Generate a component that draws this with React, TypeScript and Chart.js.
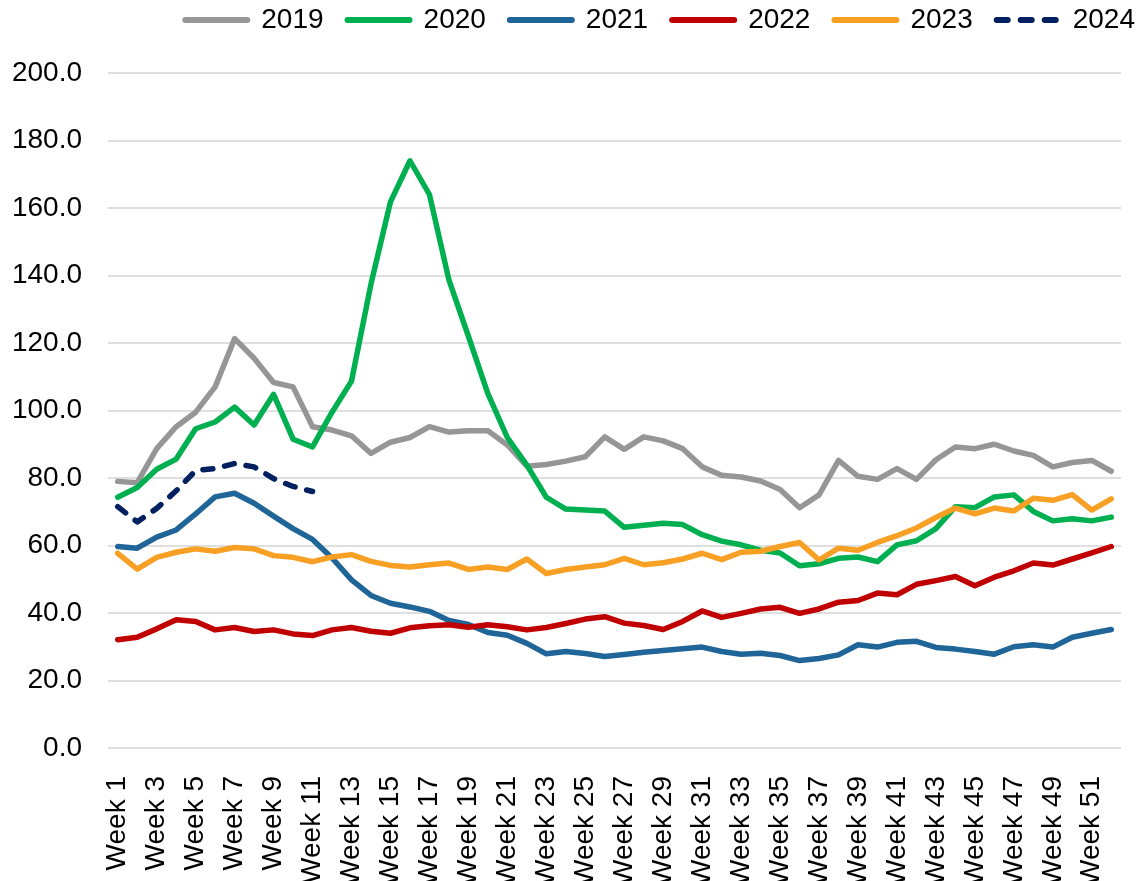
import React, { useEffect, useRef } from "react";
import { Chart, registerables } from "chart.js";

Chart.register(...registerables);

const weeks: string[] = Array.from({ length: 52 }, (_, i) => `Week ${i + 1}`);

const s2019 = [79, 78.6, 88.7, 95.2, 99.5, 107, 121.3, 115.5, 108.3, 107, 95.2, 94.2, 92.5, 87.3, 90.6, 92, 95.2, 93.6, 94, 94, 89.8, 83.5, 84, 85, 86.3, 92.2, 88.5, 92.2, 91, 88.7, 83.3, 80.8, 80.3, 79.1, 76.6, 71.2, 75, 85.2, 80.5, 79.6, 82.8, 79.6, 85.4, 89.2, 88.7, 90, 88, 86.7, 83.3, 84.6, 85.2, 82];
const s2020 = [74.3, 77.2, 82.6, 85.6, 94.6, 96.6, 101, 95.7, 104.8, 91.5, 89.2, 99.5, 108.7, 137.5, 161.8, 174, 164, 138.7, 122, 105, 92, 83.8, 74.3, 70.8, 70.5, 70.2, 65.4, 66, 66.6, 66.2, 63.2, 61.3, 60.2, 58.6, 57.8, 54, 54.6, 56.2, 56.6, 55.2, 60.2, 61.4, 65, 71.5, 71.2, 74.4, 75, 70.1, 67.3, 67.9, 67.3, 68.4];
const s2021 = [59.7, 59.2, 62.5, 64.6, 69.4, 74.4, 75.5, 72.5, 68.7, 65, 61.8, 56.3, 49.8, 45.2, 42.9, 41.8, 40.5, 37.8, 36.6, 34.2, 33.4, 31, 27.9, 28.6, 28, 27.1, 27.7, 28.4, 28.9, 29.4, 29.9, 28.6, 27.8, 28.1, 27.4, 25.9, 26.5, 27.6, 30.6, 29.9, 31.3, 31.6, 29.8, 29.3, 28.6, 27.8, 30, 30.6, 29.9, 32.8, 34, 35.1];
const s2022 = [32.1, 32.8, 35.3, 38, 37.5, 35, 35.7, 34.5, 35, 33.8, 33.3, 35, 35.7, 34.6, 34, 35.6, 36.2, 36.5, 35.8, 36.5, 35.9, 35, 35.7, 36.9, 38.2, 38.9, 37, 36.3, 35.1, 37.5, 40.6, 38.7, 39.9, 41.2, 41.7, 39.9, 41.2, 43.2, 43.7, 45.9, 45.4, 48.5, 49.6, 50.8, 48.1, 50.6, 52.5, 54.8, 54.2, 56, 57.8, 59.7];
const s2023 = [57.7, 53, 56.5, 58, 59, 58.3, 59.4, 59, 57, 56.5, 55.2, 56.6, 57.3, 55.3, 54.1, 53.6, 54.3, 54.8, 52.9, 53.6, 52.9, 56, 51.7, 52.9, 53.6, 54.3, 56.2, 54.3, 54.9, 56, 57.7, 55.8, 58, 58.3, 59.7, 60.9, 55.7, 59.2, 58.6, 60.9, 62.9, 65.2, 68.3, 71.1, 69.4, 71.1, 70.2, 74, 73.4, 75.1, 70.5, 73.8];
const s2024 = [71.5, 67, 71, 76.2, 82.2, 82.8, 84.3, 83.3, 79.8, 77.5, 76];

const seriesLabels = ["2019", "2020", "2021", "2022", "2023", "2024"];
const seriesColors = ["#969696", "#00B050", "#1F6597", "#C00000", "#F8A024", "#002060"];

const FONT = "'Liberation Sans', Arial, sans-serif";

const legendSpacer = {
  id: "legendSpacer",
  beforeInit(chart: any) {
    const lg = chart.legend;
    if (!lg) return;
    const orig = lg.fit;
    lg.fit = function () {
      orig.call(this);
      this.height += 29;
    };
  },
};

export default function App() {
  const ref = useRef<HTMLCanvasElement | null>(null);

  useEffect(() => {
    if (!ref.current) return;
    const all = [s2019, s2020, s2021, s2022, s2023, s2024];
    const datasets = all.map((d, i) => ({
      label: seriesLabels[i],
      data: weeks.map((_, k) => (k < d.length ? d[k] : null)),
      borderColor: seriesColors[i],
      backgroundColor: seriesColors[i],
      borderWidth: 5.5,
      borderCapStyle: "round" as const,
      borderJoinStyle: "round" as const,
      borderDash: i === 5 ? [10, 12] : [],
      pointRadius: 0,
      pointHoverRadius: 0,
      tension: 0,
      fill: false,
      order: 5 - i,
      spanGaps: false,
    }));

    const chart = new Chart(ref.current, {
      type: "line",
      data: { labels: weeks, datasets },
      plugins: [legendSpacer],
      options: {
        responsive: false,
        animation: false,
        font: { family: FONT, size: 28 },
        layout: { padding: { top: -18, left: 11, right: -19, bottom: 0 } },
        plugins: {
          tooltip: { enabled: false },
          legend: {
            display: true,
            position: "top",
            align: "end",
            labels: {
              usePointStyle: true,
              pointStyle: "line",
              pointStyleWidth: 62,
              padding: 24,
              color: "#000",
              font: { family: FONT, size: 28 },
              sort: (a: any, b: any) => a.datasetIndex - b.datasetIndex,
              generateLabels: (c: any) => {
                const items = (Chart as any).defaults.plugins.legend.labels.generateLabels(c);
                return items.map((it: any) => ({
                  ...it,
                  strokeStyle: seriesColors[it.datasetIndex],
                  fillStyle: seriesColors[it.datasetIndex],
                  lineWidth: 6,
                  lineCap: "round",
                  lineDash: it.datasetIndex === 5 ? [11, 13] : [],
                  lineDashOffset: 0,
                  pointStyle: "line",
                }));
              },
            },
          },
        },
        scales: {
          x: {
            offset: true,
            grid: { display: false },
            border: { display: false },
            ticks: {
              autoSkip: false,
              minRotation: 90,
              maxRotation: 90,
              padding: 20,
              color: "#000",
              font: { family: FONT, size: 28 },
              callback: (_v: any, idx: number) => (idx % 2 === 0 ? weeks[idx] : ""),
            },
            afterFit: (s: any) => {
              s.paddingLeft = 0;
              s.paddingRight = 0;
              s.height = 133;
            },
          },
          y: {
            min: 0,
            max: 200,
            grid: { color: "#DFDFDF", lineWidth: 2, drawTicks: false },
            border: { display: false },
            ticks: {
              stepSize: 20,
              padding: 26,
              color: "#000",
              font: { family: FONT, size: 28 },
              callback: (v: any) => Number(v).toFixed(1),
            },
            afterFit: (s: any) => {
              s.width = 97;
            },
          },
          yR: {
            position: "right",
            display: true,
            grid: { display: false },
            border: { display: false },
            ticks: { display: false },
            afterFit: (s: any) => {
              s.width = 38;
            },
          },
        },
      },
    });
    return () => chart.destroy();
  }, []);

  return (
    <div style={{ position: "absolute", left: 0, top: 0, width: 1140, height: 881, background: "#fff" }}>
      <canvas ref={ref} width={1140} height={881} style={{ width: 1140, height: 881, display: "block" }} />
    </div>
  );
}
